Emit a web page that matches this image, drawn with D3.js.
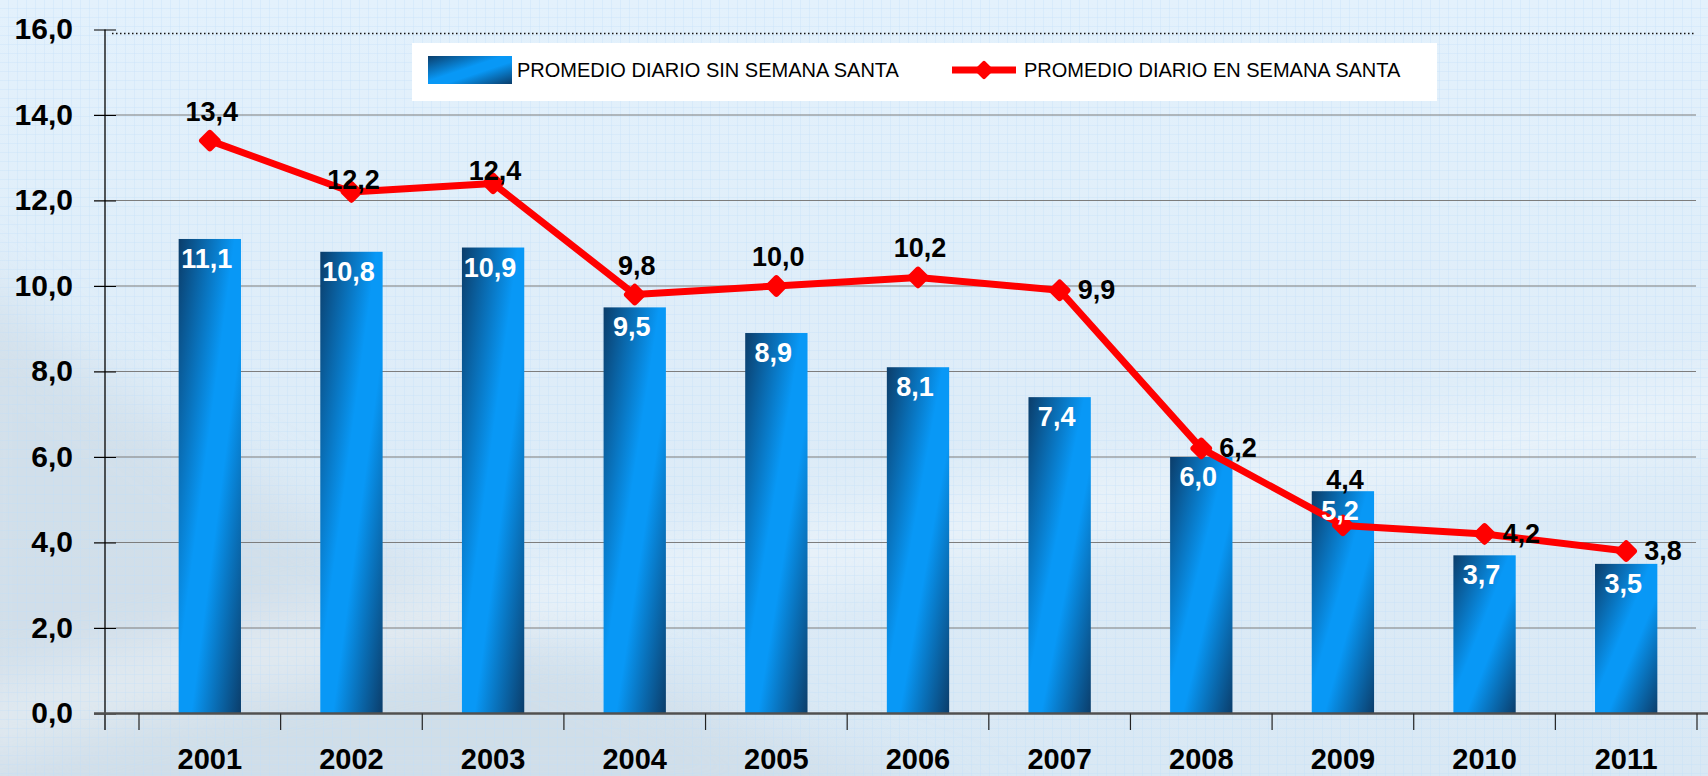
<!DOCTYPE html>
<html>
<head>
<meta charset="utf-8">
<script src="https://cdn.jsdelivr.net/npm/d3@7"></script>
<style>
  html, body { margin: 0; padding: 0; overflow: hidden; background: #dcecf8; }
  svg { display: block; font-family: "Liberation Sans", Arial, sans-serif; }
</style>
</head>
<body>
<svg width="1708" height="776"></svg>
<script>
// chart data
var years = ["2001", "2002", "2003", "2004", "2005", "2006", "2007", "2008", "2009", "2010", "2011"];
var sinSemanaSanta = [11.1, 10.8, 10.9, 9.5, 8.9, 8.1, 7.4, 6.0, 5.2, 3.7, 3.5];
var enSemanaSanta = [13.4, 12.2, 12.4, 9.8, 10.0, 10.2, 9.9, 6.2, 4.4, 4.2, 3.8];
var yTicks = [0, 2, 4, 6, 8, 10, 12, 14, 16];
var seriesNames = ["PROMEDIO DIARIO SIN SEMANA SANTA", "PROMEDIO DIARIO EN SEMANA SANTA"];

window.onload = function() {
    makeChart();
}

function makeChart() {
    var svg = d3.select("svg");
    var W = +svg.attr("width"), H = +svg.attr("height");

    // spanish number format: 11,1
    var fmt = d3.formatLocale({decimal: ",", thousands: ".", grouping: [3], currency: ["", ""]}).format(".1f");

    var x = d3.scaleBand().domain(years).range([139, 1697]);
    var y = d3.scaleLinear().domain([0, 16]).range([713.5, 29.5]);

    var defs = svg.append("defs");

    // bar gradient: dark corners, bright middle (diagonal)
    var bg = defs.append("linearGradient").attr("id", "barGrad")
        .attr("x1", 0).attr("y1", 0).attr("x2", 1).attr("y2", 1);
    bg.append("stop").attr("offset", "0").attr("stop-color", "#0b3d6a");
    bg.append("stop").attr("offset", "0.45").attr("stop-color", "#0898f6");
    bg.append("stop").attr("offset", "0.6").attr("stop-color", "#0898f6");
    bg.append("stop").attr("offset", "1").attr("stop-color", "#0b3d6a");

    // page background
    var pg = defs.append("linearGradient").attr("id", "pageGrad")
        .attr("x1", 0).attr("y1", 0).attr("x2", 0).attr("y2", 1);
    pg.append("stop").attr("offset", "0").attr("stop-color", "#e3f1fc");
    pg.append("stop").attr("offset", "1").attr("stop-color", "#d9e8f4");

    var pat = defs.append("pattern").attr("id", "grid")
        .attr("width", 9).attr("height", 9).attr("patternUnits", "userSpaceOnUse");
    pat.append("path").attr("d", "M9 0 V9 M0 9 H9")
        .attr("stroke", "#bcdcf6").attr("stroke-width", 1).attr("fill", "none").attr("opacity", 0.6);

    defs.append("filter").attr("id", "blur").attr("x", "-20%").attr("y", "-20%").attr("width", "140%").attr("height", "140%")
        .append("feGaussianBlur").attr("stdDeviation", 30);

    svg.append("rect").attr("width", W).attr("height", H).attr("fill", "url(#pageGrad)");

    // grey swoosh lower left and a light streak
    svg.append("path")
        .attr("d", "M-60 250 C 150 420, 300 560, 1000 820 L -60 820 Z")
        .attr("fill", "#c9d6e0").attr("opacity", 0.55).attr("filter", "url(#blur)");
    svg.append("path")
        .attr("d", "M-40 700 C 300 600, 800 520, 1750 380 L 1750 430 C 800 580, 300 660, -40 760 Z")
        .attr("fill", "#ffffff").attr("opacity", 0.45).attr("filter", "url(#blur)");

    svg.append("rect").attr("width", W).attr("height", H).attr("fill", "url(#grid)");

    var g = svg.append("g");

    // gridlines
    g.selectAll(".grid")
        .data(yTicks.filter(function(d) { return d > 0 && d < 16; }))
        .enter().append("line")
        .attr("x1", 94).attr("x2", 1696)
        .attr("y1", function(d) { return y(d); })
        .attr("y2", function(d) { return y(d); })
        .attr("stroke", "#7d7d7d").attr("stroke-width", 1.2);

    // top dotted line
    g.append("line")
        .attr("x1", 112).attr("x2", 1694)
        .attr("y1", y(16) + 4).attr("y2", y(16) + 4)
        .attr("stroke", "#111").attr("stroke-width", 1.5)
        .attr("stroke-dasharray", "1.5,2.5");

    // y axis
    var yAxis = g.append("g")
        .attr("transform", "translate(105,0)")
        .call(d3.axisLeft(y).tickValues(yTicks).tickFormat(fmt).tickSize(11).tickPadding(21));
    yAxis.select(".domain").remove();
    yAxis.selectAll(".tick line").attr("x2", 11).attr("x1", -11).attr("stroke", "#000");
    yAxis.selectAll(".tick text")
        .attr("font-family", "'Liberation Sans', Arial, sans-serif")
        .attr("font-size", 30).attr("font-weight", "bold").attr("fill", "#000")
        .attr("dy", "0.3em");
    g.append("line").attr("x1", 105).attr("x2", 105).attr("y1", y(16)).attr("y2", 730)
        .attr("stroke", "#000").attr("stroke-width", 1.3);

    // bars
    var bw = x.bandwidth() * 0.44;
    g.selectAll(".bar")
        .data(sinSemanaSanta)
        .enter().append("rect")
        .attr("class", "bar")
        .attr("x", function(d, i) { return x(years[i]) + (x.bandwidth() - bw) / 2; })
        .attr("y", function(d) { return y(d); })
        .attr("width", bw)
        .attr("height", function(d) { return y(0) - y(d); })
        .attr("fill", "url(#barGrad)");

    // x axis
    g.append("line").attr("x1", 94).attr("x2", W).attr("y1", y(0)).attr("y2", y(0))
        .attr("stroke", "#505050").attr("stroke-width", 2.5);
    var bounds = years.map(function(d) { return x(d); }).concat([x.range()[1]]);
    g.selectAll(".xtick")
        .data(bounds)
        .enter().append("line")
        .attr("x1", function(d) { return d; }).attr("x2", function(d) { return d; })
        .attr("y1", y(0)).attr("y2", 730)
        .attr("stroke", "#222").attr("stroke-width", 1.2);
    g.selectAll(".xlabel")
        .data(years)
        .enter().append("text")
        .attr("x", function(d) { return x(d) + x.bandwidth() / 2; })
        .attr("y", 769)
        .attr("text-anchor", "middle")
        .attr("font-size", 29).attr("font-weight", "bold").attr("fill", "#000")
        .text(function(d) { return d; });

    // red line
    var line = d3.line()
        .x(function(d, i) { return x(years[i]) + x.bandwidth() / 2; })
        .y(function(d) { return y(d); });
    g.append("path")
        .datum(enSemanaSanta)
        .attr("d", line)
        .attr("fill", "none").attr("stroke", "#ff0000")
        .attr("stroke-width", 7).attr("stroke-linejoin", "round");

    g.selectAll(".marker")
        .data(enSemanaSanta)
        .enter().append("rect")
        .attr("x", -8.5).attr("y", -8.5).attr("width", 17).attr("height", 17).attr("rx", 3)
        .attr("fill", "#ff0000")
        .attr("transform", function(d, i) {
            return "translate(" + (x(years[i]) + x.bandwidth() / 2) + "," + y(d) + ") rotate(45)";
        });

    // bar labels (white, inside top)
    g.selectAll(".barlabel")
        .data(sinSemanaSanta)
        .enter().append("text")
        .attr("x", function(d, i) { return x(years[i]) + x.bandwidth() / 2 - 3; })
        .attr("y", function(d) { return y(d) + 29; })
        .attr("text-anchor", "middle")
        .attr("font-size", 27).attr("font-weight", "bold").attr("fill", "#fff")
        .text(function(d) { return fmt(d); });

    // line labels (black), placed like the original
    var place = ["top", "on", "on", "top", "top", "top", "right", "right", "high", "right", "right"];
    g.selectAll(".linelabel")
        .data(enSemanaSanta)
        .enter().append("text")
        .attr("x", function(d, i) {
            var cx = x(years[i]) + x.bandwidth() / 2;
            return place[i] == "right" ? cx + 18 : cx + 2;
        })
        .attr("y", function(d, i) {
            if (place[i] == "right") return y(d) + 9;
            if (place[i] == "on") return y(d) - 3;
            if (place[i] == "high") return y(d) - 36;
            return y(d) - 20;
        })
        .attr("text-anchor", function(d, i) { return place[i] == "right" ? "start" : "middle"; })
        .attr("font-size", 27).attr("font-weight", "bold").attr("fill", "#000")
        .text(function(d) { return fmt(d); });

    // legend
    var lg = svg.append("g");
    lg.append("rect").attr("x", 412).attr("y", 43).attr("width", 1025).attr("height", 58).attr("fill", "#fff");
    lg.append("rect").attr("x", 428).attr("y", 56).attr("width", 84).attr("height", 28).attr("fill", "url(#barGrad)");
    lg.append("text").attr("x", 517).attr("y", 77).attr("font-size", 20).attr("fill", "#000").text(seriesNames[0]);
    lg.append("line").attr("x1", 952).attr("x2", 1016).attr("y1", 70).attr("y2", 70)
        .attr("stroke", "#ff0000").attr("stroke-width", 7);
    lg.append("rect").attr("x", -7).attr("y", -7).attr("width", 14).attr("height", 14).attr("rx", 2)
        .attr("fill", "#ff0000").attr("transform", "translate(984,70) rotate(45)");
    lg.append("text").attr("x", 1024).attr("y", 77).attr("font-size", 20).attr("fill", "#000").text(seriesNames[1]);
}
</script>
</body>
</html>
